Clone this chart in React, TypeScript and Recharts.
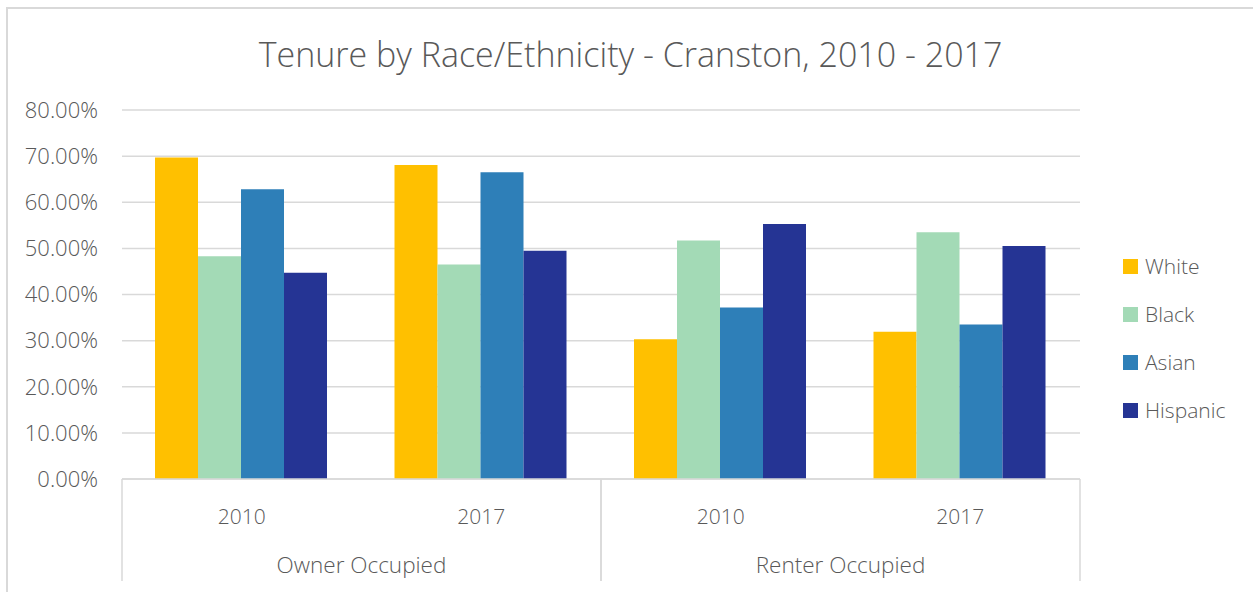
import { Bar, BarChart, CartesianGrid, XAxis, YAxis } from "recharts"

const years = ["2010", "2017", "2010", "2017"]
const tenure = ["Owner Occupied", "Owner Occupied", "Renter Occupied", "Renter Occupied"]

const white = [69.7, 68.1, 30.3, 31.9]
const black = [48.3, 46.5, 51.7, 53.5]
const asian = [62.8, 66.5, 37.2, 33.5]
const hispanic = [44.7, 49.5, 55.3, 50.5]

const yTicks = [0, 10, 20, 30, 40, 50, 60, 70, 80]

const series = [
  { key: "White", color: "#FFC000", values: white },
  { key: "Black", color: "#A3DAB6", values: black },
  { key: "Asian", color: "#2E7FB8", values: asian },
  { key: "Hispanic", color: "#253494", values: hispanic },
]

const data = years.map((year, i) => {
  const row: Record<string, string | number> = { year, tenure: tenure[i] }
  series.forEach((s) => (row[s.key] = s.values[i]))
  return row
})

const FONT = "'Open Sans', 'Segoe UI', sans-serif"
const WEIGHT = 300
const TEXT = "#595959"
const LINE = "#d9d9d9"

// second-level category label plus the vertical dividers bounding its band
function GroupTick(props: any) {
  const { x, y, payload } = props
  const half = payload?.offset ?? 239.5
  const top = y - 50
  return (
    <g>
      <line x1={x - half} x2={x - half} y1={top} y2={top + 102} stroke={LINE} strokeWidth={1.5} />
      <line x1={x + half} x2={x + half} y1={top} y2={top + 102} stroke={LINE} strokeWidth={1.5} />
      <text
        x={x}
        y={y + 44}
        textAnchor="middle"
        fill={TEXT}
        fontSize={22.5}
        fontWeight={WEIGHT}
        fontFamily={FONT}
      >
        {payload.value}
      </text>
    </g>
  )
}

function SideLegend() {
  return (
    <div style={{ position: "absolute", left: 1123, top: 242, fontFamily: FONT, fontWeight: WEIGHT }}>
      {series.map((s) => (
        <div
          key={s.key}
          style={{ display: "flex", alignItems: "center", height: 48, color: TEXT, fontSize: 21 }}
        >
          <span style={{ width: 15, height: 15, background: s.color, marginRight: 7 }} />
          {s.key}
        </div>
      ))}
    </div>
  )
}

export default function App() {
  return (
    <div
      style={{
        position: "absolute",
        left: 0,
        top: 0,
        width: 1253,
        height: 592,
        overflow: "hidden",
        background: "#fff",
      }}
    >
      <div
        style={{
          position: "absolute",
          left: 6,
          top: 7,
          width: 1300,
          height: 640,
          border: `2px solid ${LINE}`,
        }}
      />
      <div
        style={{
          position: "absolute",
          left: 0,
          width: 1253,
          top: 31,
          textAlign: "center",
          fontFamily: FONT,
          fontWeight: WEIGHT,
          fontSize: 34,
          color: TEXT,
          paddingLeft: 4,
        }}
      >
        Tenure by Race/Ethnicity - Cranston, 2010 - 2017
      </div>
      <div style={{ position: "absolute", left: 0, top: 0 }}>
        <BarChart
          width={1253}
          height={592}
          data={data}
          margin={{ top: 110, right: 173, left: 22, bottom: 0 }}
          barCategoryGap={33}
          barGap={0}
        >
          <CartesianGrid vertical={false} stroke={LINE} strokeWidth={1.5} />
          <YAxis
            width={100}
            domain={[0, 80]}
            ticks={yTicks}
            axisLine={false}
            tickLine={false}
            tickSize={0}
            tickMargin={24}
            tickFormatter={(v: number) => `${v.toFixed(2)}%`}
            tick={{ fill: TEXT, fontSize: 22, fontWeight: WEIGHT, fontFamily: FONT }}
          />
          <XAxis
            dataKey="year"
            height={50}
            axisLine={{ stroke: LINE, strokeWidth: 1.5 }}
            tickLine={false}
            tickSize={0}
            tickMargin={30}
            tick={{ fill: TEXT, fontSize: 21, fontWeight: WEIGHT, fontFamily: FONT }}
          />
          <XAxis
            xAxisId="group"
            dataKey="tenure"
            allowDuplicatedCategory={false}
            height={63}
            axisLine={false}
            tickLine={false}
            tickSize={0}
            tickMargin={0}
            tick={<GroupTick />}
          />
          {series.map((s) => (
            <Bar key={s.key} dataKey={s.key} fill={s.color} isAnimationActive={false} />
          ))}
        </BarChart>
      </div>
      <SideLegend />
    </div>
  )
}
